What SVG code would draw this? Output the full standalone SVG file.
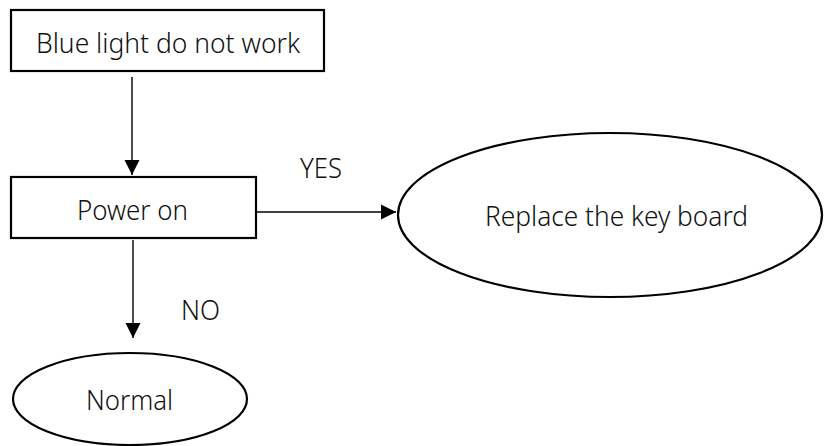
<svg xmlns="http://www.w3.org/2000/svg" width="829" height="446" viewBox="0 0 829 446">
  <style>
    .box { fill: #ffffff; stroke: #000000; stroke-width: 2.2; }
    .oval { fill: #ffffff; stroke: #000000; stroke-width: 2.2; }
    .lbl { font-family: "Noto Sans", "Open Sans", "Liberation Sans", sans-serif; font-size: 28px; font-weight: 300; fill: #111111; }
    .conn { fill: none; stroke: #000000; stroke-width: 1.4; }
  </style>
  <defs>
    <marker id="arrow" markerUnits="userSpaceOnUse" markerWidth="16" markerHeight="16" viewBox="0 0 16 16" refX="15" refY="8" orient="auto">
      <path d="M0,0.5 L15,8 L0,15.5 Z" fill="#000000"/>
    </marker>
  </defs>
  <rect width="829" height="446" fill="#ffffff"/>
  <g id="connectors">
    <line class="conn" x1="132" y1="77" x2="132" y2="175" marker-end="url(#arrow)"/>
    <line class="conn" x1="252" y1="212" x2="396" y2="212" marker-end="url(#arrow)"/>
    <line class="conn" x1="133" y1="240" x2="133" y2="338" marker-end="url(#arrow)"/>
    <text class="lbl" x="300" y="178" textLength="42" lengthAdjust="spacingAndGlyphs">YES</text>
    <text class="lbl" x="181" y="320" textLength="39" lengthAdjust="spacingAndGlyphs">NO</text>
  </g>
  <g id="node-blue-light">
    <rect class="box" x="11" y="10" width="313" height="61"/>
    <text class="lbl" x="36" y="53" textLength="264" lengthAdjust="spacingAndGlyphs">Blue light do not work</text>
  </g>
  <g id="node-power-on">
    <rect class="box" x="11" y="177" width="245" height="61"/>
    <text class="lbl" x="77" y="220" textLength="111" lengthAdjust="spacingAndGlyphs">Power on</text>
  </g>
  <g id="node-replace">
    <ellipse class="oval" cx="610" cy="215" rx="212" ry="82"/>
    <text class="lbl" x="485" y="226" textLength="263" lengthAdjust="spacingAndGlyphs">Replace the key board</text>
  </g>
  <g id="node-normal">
    <ellipse class="oval" cx="130" cy="399" rx="117" ry="46"/>
    <text class="lbl" x="86" y="410" textLength="87" lengthAdjust="spacingAndGlyphs">Normal</text>
  </g>
</svg>
